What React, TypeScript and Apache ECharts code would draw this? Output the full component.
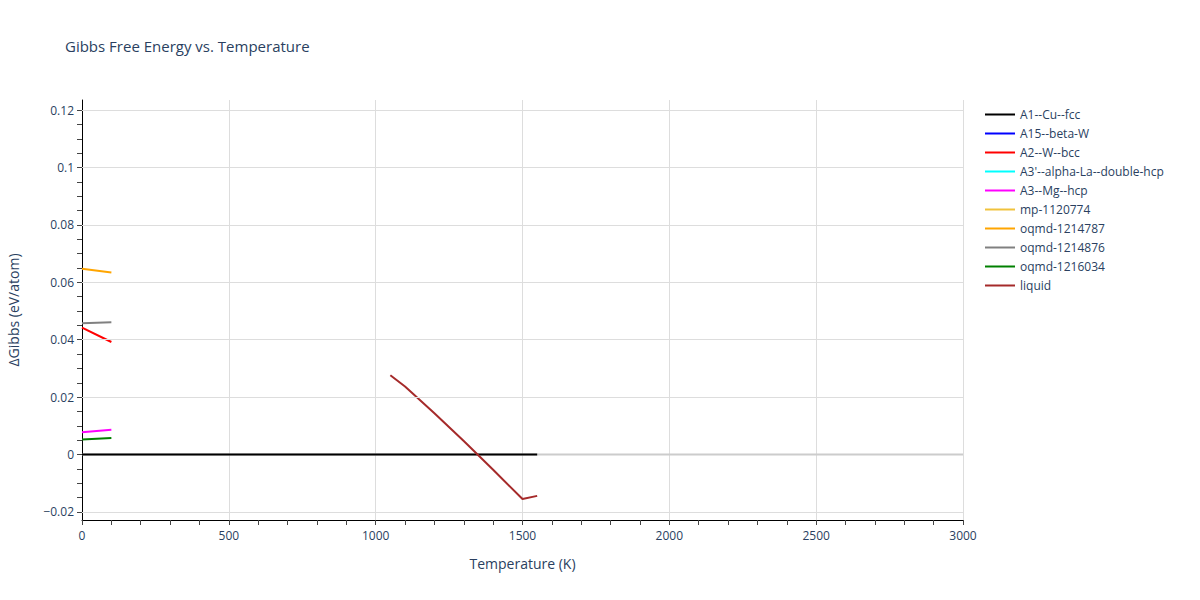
import React, { useEffect, useRef } from 'react';
import * as echarts from 'echarts';

// Temperatures (K) for the short low-T phases
const lowT = [0, 100];

// Series values (eV/atom)
const a1CuT = [0, 500, 1000, 1550];
const a1CuFcc = [0, 0, 0, 0];
const a15BetaW: number[] = [];
const a2WBcc = [0.0442, 0.0392];
const a3AlphaLa: number[] = [];
const a3MgHcp = [0.0078, 0.0086];
const mp1120774: number[] = [];
const oqmd1214787 = [0.0647, 0.0634];
const oqmd1214876 = [0.0457, 0.0461];
const oqmd1216034 = [0.0052, 0.0058];

const liquidT = [1050, 1100, 1200, 1300, 1400, 1500, 1550];
const liquidG = [0.0276, 0.0237, 0.0144, 0.0047, -0.0053, -0.0155, -0.0144];

const seriesNames = [
  'A1--Cu--fcc',
  'A15--beta-W',
  'A2--W--bcc',
  "A3'--alpha-La--double-hcp",
  'A3--Mg--hcp',
  'mp-1120774',
  'oqmd-1214787',
  'oqmd-1214876',
  'oqmd-1216034',
  'liquid',
];
const seriesColors = [
  '#000000',
  '#0000ff',
  '#ff0000',
  '#00ffff',
  '#ff00ff',
  '#f0c23c',
  '#ffa500',
  '#808080',
  '#008000',
  '#a52a2a',
];

// Axis ticks
const xTicks = [0, 500, 1000, 1500, 2000, 2500, 3000];
const yLabels = [-0.02, 0, 0.02, 0.04, 0.06, 0.08, 0.1, 0.12];
const yTicks = [
  -0.02, -0.015, -0.01, -0.005, 0, 0.005, 0.01, 0.015, 0.02, 0.025, 0.03, 0.035, 0.04, 0.045,
  0.05, 0.055, 0.06, 0.065, 0.07, 0.075, 0.08, 0.085, 0.09, 0.095, 0.1, 0.105, 0.11, 0.115, 0.12,
];

const textColor = '#2a3f5f';
const font = '"Open Sans", verdana, arial, sans-serif';

const pairs = (xs: number[], ys: number[]) => ys.map((y, i) => [xs[i], y]);

export default function App() {
  const chartRef = useRef<HTMLDivElement>(null);

  useEffect(() => {
    if (!chartRef.current) return;
    const chart = echarts.init(chartRef.current, undefined, { renderer: 'svg' });

    const seriesData = [
      pairs(a1CuT, a1CuFcc),
      pairs(lowT, a15BetaW),
      pairs(lowT, a2WBcc),
      pairs(lowT, a3AlphaLa),
      pairs(lowT, a3MgHcp),
      pairs(lowT, mp1120774),
      pairs(lowT, oqmd1214787),
      pairs(lowT, oqmd1214876),
      pairs(lowT, oqmd1216034),
      pairs(liquidT, liquidG),
    ];

    const lines = seriesNames.map((name, i) => ({
      name,
      type: 'line' as const,
      data: seriesData[i],
      symbol: 'none',
      color: seriesColors[i],
      lineStyle: { color: seriesColors[i], width: 2 },
      z: 3,
    }));

    const option: echarts.EChartsOption = {
      animation: false,
      textStyle: { fontFamily: font, color: textColor },
      title: {
        text: 'Gibbs Free Energy vs. Temperature',
        left: 60,
        top: 33,
        textStyle: { fontSize: 15, fontWeight: 'normal', color: textColor, fontFamily: font },
      },
      legend: {
        data: seriesNames,
        orient: 'vertical',
        left: 985,
        top: 105,
        padding: 0,
        icon: 'rect',
        itemWidth: 30,
        itemHeight: 2,
        itemGap: 0,
        textStyle: { fontSize: 12, lineHeight: 19, color: textColor, fontFamily: font },
      },
      grid: { left: 82, right: 237, top: 100, bottom: 80, outerBoundsMode: 'none' } as any,
      xAxis: {
        type: 'value',
        min: 0,
        max: 3000,
        interval: 500,
        name: 'Temperature (K)',
        nameLocation: 'middle',
        nameGap: 36,
        nameTextStyle: { fontSize: 14, color: textColor },
        axisLine: { show: true, onZero: false, lineStyle: { color: '#000', width: 1 } },
        axisTick: { show: true, length: 5, lineStyle: { color: '#444' } },
        minorTick: { show: true, splitNumber: 5, length: 5, lineStyle: { color: '#444' } },
        axisLabel: {
          fontSize: 12,
          color: textColor,
          margin: 9,
          formatter: (v: number) => (xTicks.includes(v) ? String(v) : ''),
        },
        splitLine: { show: true, lineStyle: { color: '#dddddd', width: 1 } },
      },
      yAxis: {
        type: 'value',
        min: -0.0228,
        max: 0.1235,
        name: 'ΔGibbs (eV/atom)',
        nameLocation: 'middle',
        nameGap: 62,
        nameTextStyle: { fontSize: 14, color: textColor },
        axisLine: { show: true, lineStyle: { color: '#000', width: 1 } },
        axisTick: { show: true, length: 5, customValues: yTicks, lineStyle: { color: '#444' } },
        axisLabel: {
          fontSize: 12,
          color: textColor,
          margin: 8,
          customValues: yLabels,
          formatter: (v: number) => {
            const r = Math.round(v * 100) / 100;
            if (r === 0) return '0';
            return r < 0 ? '−' + String(-r) : String(r);
          },
        },
        splitLine: { show: false },
      } as any,
      series: [
        {
          name: 'zeroline',
          type: 'line',
          data: [
            [0, 0],
            [3000, 0],
          ],
          symbol: 'none',
          silent: true,
          lineStyle: { color: '#cccccc', width: 2 },
          z: 1,
          markLine: {
            silent: true,
            symbol: 'none',
            label: { show: false },
            lineStyle: { color: '#dddddd', width: 1, type: 'solid' },
            data: yLabels.filter((v) => v !== 0).map((v) => ({ yAxis: v })),
          },
        },
        ...lines,
      ],
    };

    chart.setOption(option);
    return () => chart.dispose();
  }, []);

  return (
    <div
      ref={chartRef}
      style={{ position: 'fixed', left: 0, top: 0, width: 1200, height: 600, background: '#fff' }}
    />
  );
}
